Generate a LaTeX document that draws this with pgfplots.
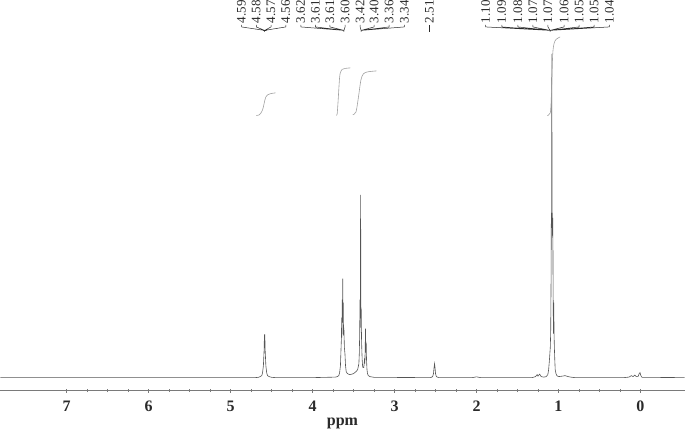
\documentclass[border=0pt]{standalone}
\usepackage{fontspec}
\setmainfont{Liberation Serif}
\usepackage{pgfplots}
\pgfplotsset{compat=1.18}

\definecolor{spec}{HTML}{555555}
\definecolor{axisgray}{HTML}{7A7A7A}
\definecolor{intgray}{HTML}{A0A0A0}
\definecolor{labgray}{HTML}{2A2A2A}

\begin{document}
\begin{tikzpicture}
\begin{axis}[
  scale only axis, width=685pt, height=394pt,
  x dir=reverse, xmin=-0.54, xmax=7.81, ymin=-13, ymax=381,
  axis x line=bottom, axis y line=none,
  axis line style={axisgray, line width=0.6pt, -},
  xtick={0,1,...,7}, minor x tick num=3,
  tick style={axisgray, line width=0.5pt},
  major tick length=4pt, minor tick length=3pt,
  tick align=center,
  xticklabel style={font=\fontsize{16}{16}\selectfont\bfseries, text=labgray, yshift=-5pt},
  /pgf/number format/assume math mode=true,
  xlabel={ppm},
  xlabel style={font=\fontsize{16}{16}\selectfont\bfseries, text=labgray,
    at={(axis description cs:0.5,0)}, anchor=center, yshift=-33pt},
  clip=false,
]
% spectrum
\addplot[spec, line width=0.6pt] coordinates {
(7.81,0) (4.70,0) (4.66,0.3) (4.64,1) (4.62,2) (4.61,5) (4.60,12) (4.595,21)
(4.59,30) (4.588,43) (4.582,43) (4.58,30) (4.575,21) (4.57,12) (4.56,5) (4.55,2)
(4.53,1) (4.50,0.3) (4.45,0) (4.00,0) (3.72,0.5) (3.70,1) (3.68,2) (3.67,5)
(3.66,12) (3.655,24) (3.648,40) (3.645,60) (3.642,40) (3.638,78) (3.635,55)
(3.632,99) (3.629,60) (3.626,75) (3.622,42) (3.618,50) (3.612,30) (3.605,24)
(3.598,12) (3.59,6) (3.575,4) (3.55,3) (3.52,3.5) (3.50,4) (3.47,6) (3.45,8)
(3.435,14) (3.43,24) (3.425,45) (3.422,78) (3.418,50) (3.414,183) (3.41,60)
(3.407,70) (3.403,40) (3.40,30) (3.395,18) (3.39,12) (3.385,10) (3.375,10)
(3.368,17) (3.362,14) (3.358,30) (3.354,49) (3.35,25) (3.346,35) (3.342,18)
(3.336,8) (3.33,4) (3.32,2) (3.30,1) (3.25,0.3) (2.60,0) (2.56,0) (2.535,1)
(2.525,4) (2.518,10) (2.512,14) (2.506,10) (2.50,4) (2.49,1) (2.46,0)
(2.05,0) (2.00,0.8) (1.95,0) (1.32,0) (1.28,1) (1.26,3) (1.25,1.5) (1.23,3.5)
(1.21,1) (1.18,0.5) (1.15,1) (1.13,3) (1.12,8) (1.11,18) (1.10,30) (1.095,45)
(1.09,100) (1.087,165) (1.084,150) (1.081,324) (1.078,160) (1.075,165)
(1.072,140) (1.069,160) (1.066,100) (1.063,60) (1.06,44) (1.057,75) (1.054,44)
(1.05,30) (1.045,18) (1.04,8) (1.03,4) (1.02,2) (1.00,1) (0.95,1.5) (0.92,2)
(0.88,1) (0.85,0.5) (0.80,0) (0.20,0) (0.14,0.5) (0.11,2) (0.09,1) (0.07,2.5)
(0.05,1) (0.03,1) (0.015,4) (0.005,5) (-0.005,2) (-0.02,0.3) (-0.54,0)
};
% integral curves
\addplot[intgray, line width=0.6pt, smooth] coordinates {
(4.69,262.5) (4.65,263) (4.61,268) (4.57,281) (4.52,284) (4.45,285)};
\addplot[intgray, line width=0.6pt, smooth] coordinates {
(3.71,262.5) (3.70,264) (3.69,275) (3.675,295) (3.665,304) (3.64,308.5) (3.60,309.5) (3.54,310)};
\addplot[intgray, line width=0.6pt, smooth] coordinates {
(3.51,263) (3.47,266) (3.44,281) (3.41,298) (3.38,304) (3.33,306) (3.22,307)};
\addplot[intgray, line width=0.6pt, smooth] coordinates {
(1.135,262) (1.12,263) (1.10,265) (1.09,275) (1.08,300) (1.07,324) (1.055,334) (1.03,338.5) (0.98,341)};
% peak label connectors
\addplot[labgray, line width=0.5pt] coordinates {
(4.585,346) (4.585,347.5) (4.867,351) (4.867,353) (4.867,351) (4.585,347.5)
(4.687,351) (4.687,353) (4.687,351) (4.585,347.5) (4.507,351) (4.507,353)
(4.507,351) (4.585,347.5) (4.327,351) (4.327,353)};
\addplot[labgray, line width=0.5pt] coordinates {
(3.617,346) (3.617,347.5) (4.144,351) (4.144,353) (4.144,351) (3.617,347.5)
(3.966,351) (3.966,353) (3.966,351) (3.617,347.5) (3.788,351) (3.788,353)
(3.788,351) (3.617,347.5) (3.604,351) (3.604,353)};
\addplot[labgray, line width=0.5pt] coordinates {
(3.408,346) (3.408,347.5) (3.420,351) (3.420,353) (3.420,351) (3.408,347.5)
(3.249,351) (3.249,353) (3.249,351) (3.408,347.5) (3.065,351) (3.065,353)
(3.065,351) (3.408,347.5) (2.881,351) (2.881,353)};
\addplot[labgray, line width=0.5pt] coordinates {(2.574,346) (2.574,353)};
\addplot[labgray, line width=0.5pt] coordinates {
(1.103,346) (1.103,347.5) (1.888,351) (1.888,353) (1.888,351) (1.103,347.5)
(1.692,351) (1.692,353) (1.692,351) (1.103,347.5) (1.496,351) (1.496,353)
(1.496,351) (1.103,347.5) (1.312,351) (1.312,353) (1.312,351) (1.103,347.5)
(1.128,351) (1.128,353) (1.128,351) (1.103,347.5) (0.932,351) (0.932,353)
(0.932,351) (1.103,347.5) (0.748,351) (0.748,353) (0.748,351) (1.103,347.5)
(0.564,351) (0.564,353) (0.564,351) (1.103,347.5) (0.380,351) (0.380,353)};
% peak labels
\begin{scope}[every node/.style={rotate=90, anchor=west, inner sep=0.5pt,
  font=\fontsize{13}{13}\selectfont, text=labgray}]
\node at (axis cs:4.867,354) {4.59};
\node at (axis cs:4.687,354) {4.58};
\node at (axis cs:4.507,354) {4.57};
\node at (axis cs:4.327,354) {4.56};
\node at (axis cs:4.144,354) {3.62};
\node at (axis cs:3.966,354) {3.61};
\node at (axis cs:3.788,354) {3.61};
\node at (axis cs:3.604,354) {3.60};
\node at (axis cs:3.420,354) {3.42};
\node at (axis cs:3.249,354) {3.40};
\node at (axis cs:3.065,354) {3.36};
\node at (axis cs:2.881,354) {3.34};
\node at (axis cs:2.574,354) {2.51};
\node at (axis cs:1.888,354) {1.10};
\node at (axis cs:1.692,354) {1.09};
\node at (axis cs:1.496,354) {1.08};
\node at (axis cs:1.312,354) {1.07};
\node at (axis cs:1.128,354) {1.07};
\node at (axis cs:0.932,354) {1.06};
\node at (axis cs:0.748,354) {1.05};
\node at (axis cs:0.564,354) {1.05};
\node at (axis cs:0.380,354) {1.04};
\end{scope}
\end{axis}
\end{tikzpicture}
\end{document}
